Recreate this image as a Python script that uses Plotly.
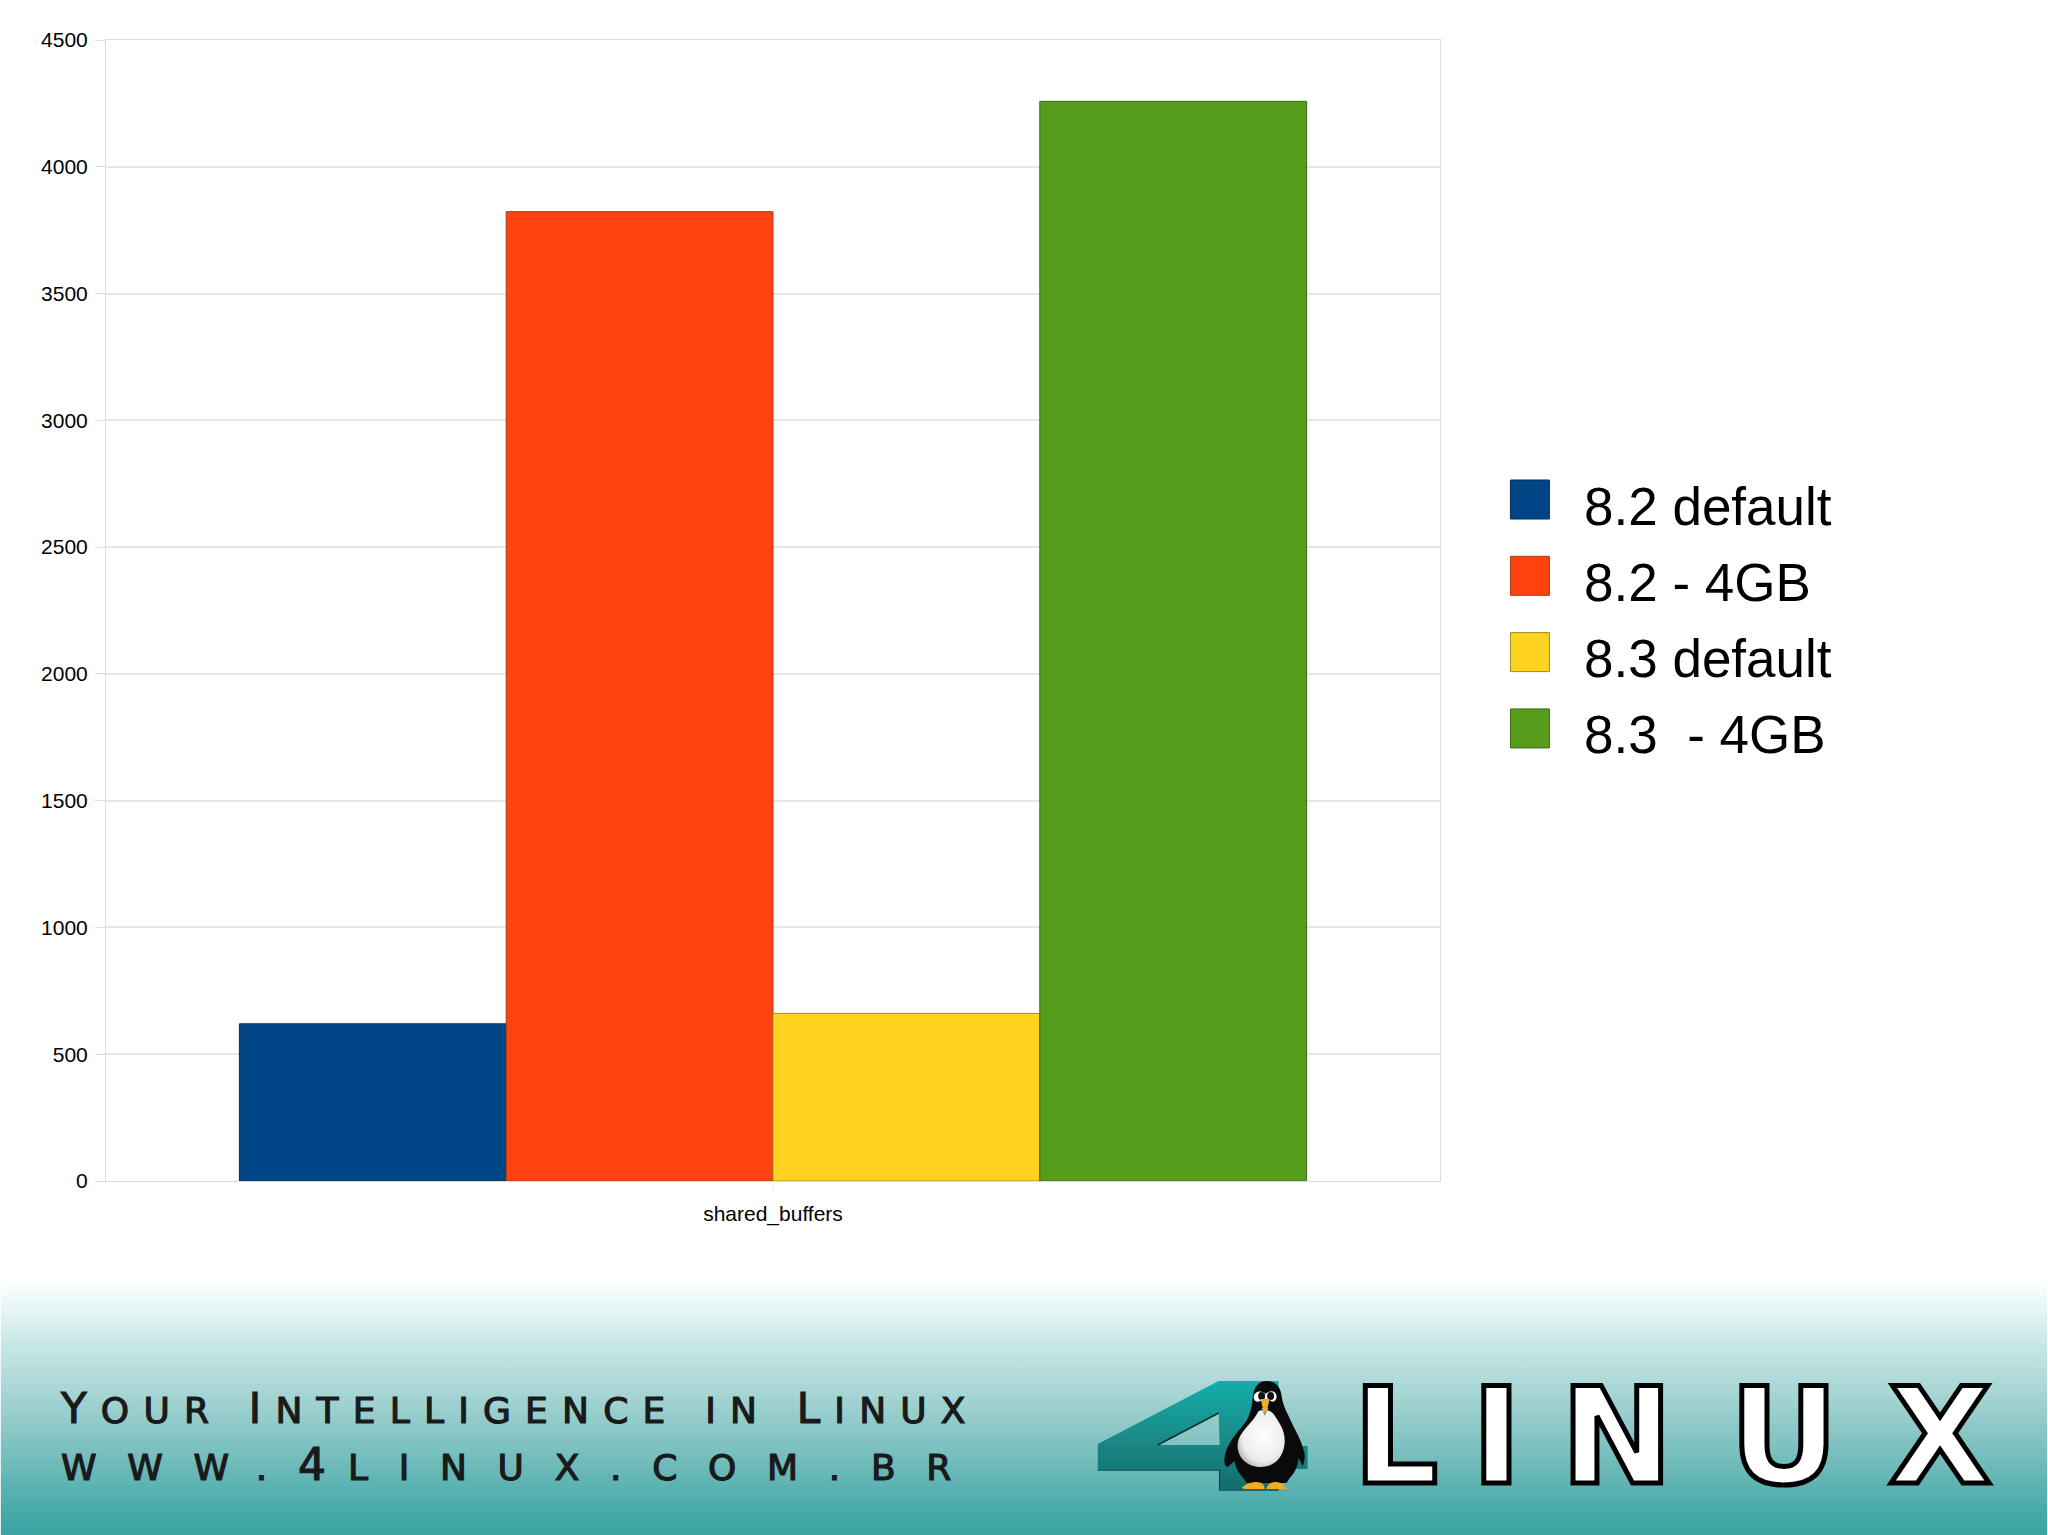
import base64
import plotly.graph_objects as go

categories = ["shared_buffers"]
series_names = ["8.2 default", "8.2 - 4GB", "8.3 default", "8.3  - 4GB"]
v82_default = [620]
v82_4gb = [3823]
v83_default = [661]
v83_4gb = [4258]
series_values = [v82_default, v82_4gb, v83_default, v83_4gb]
fill_colors = ["#004586", "#ff420e", "#ffd320", "#579d1c"]
line_colors = ["#00305c", "#a83a17", "#a08a28", "#3a6a14"]
y_ticks = [0, 500, 1000, 1500, 2000, 2500, 3000, 3500, 4000, 4500]

W, H = 2048, 1535
L, R, T, B = 105.5, 1440.5, 40, 1181


def px(x):
    return (x - L) / (R - L)


def py(y):
    return (B - y) / (B - T)


svg = f'''<svg xmlns="http://www.w3.org/2000/svg" width="{W}" height="{H}" viewBox="0 0 {W} {H}">
<defs>
<linearGradient id="bg" x1="0" y1="1280" x2="0" y2="1535" gradientUnits="userSpaceOnUse">
<stop offset="0" stop-color="#ffffff"/>
<stop offset="0.1" stop-color="#e9f6f6"/>
<stop offset="0.28" stop-color="#c2e4e4"/>
<stop offset="0.48" stop-color="#a0d2d1"/>
<stop offset="0.68" stop-color="#78bfbe"/>
<stop offset="0.87" stop-color="#4fadab"/>
<stop offset="1" stop-color="#37a4a2"/>
</linearGradient>
<linearGradient id="four" x1="0" y1="1380" x2="0" y2="1490" gradientUnits="userSpaceOnUse">
<stop offset="0" stop-color="#14aeab"/>
<stop offset="0.6" stop-color="#1a8583"/>
<stop offset="1" stop-color="#0f6f6c"/>
</linearGradient>
<radialGradient id="belly" cx="0.55" cy="0.45" r="0.65">
<stop offset="0" stop-color="#ffffff"/>
<stop offset="0.7" stop-color="#ececec"/>
<stop offset="1" stop-color="#a8a8a8"/>
</radialGradient>
</defs>
<rect width="{W}" height="{H}" fill="#ffffff"/>
<rect y="1280" width="{W}" height="255" fill="url(#bg)"/>
<path fill-rule="evenodd" fill="url(#four)" d="M1219 1381H1279V1446H1308V1469H1279V1489H1220V1469H1098V1444Z M1219 1413L1158 1445H1220Z"/>
<path fill="none" stroke="#0a2f2e" stroke-width="1.5" d="M1158 1445L1219 1413"/>
<path fill="none" stroke="#0a4f4d" stroke-width="1.5" d="M1098 1470H1220V1490H1279"/>
<path fill="#0a0a0a" d="M1267 1381C1276 1381 1281 1387 1282 1396C1283 1404 1286 1410 1289 1416C1293 1426 1301 1438 1304 1450C1306 1456 1305 1462 1303 1466L1299 1458C1298 1466 1296 1472 1290 1478L1287 1483H1247L1242 1476C1238 1471 1236 1468 1235 1461L1228 1467C1224 1466 1224 1460 1226 1452C1230 1440 1240 1430 1246 1422C1250 1416 1252 1408 1253 1398C1254 1388 1258 1381 1267 1381Z"/>
<path fill="url(#belly)" d="M1259 1411C1264 1409 1271 1410 1274 1414C1279 1422 1286 1430 1285 1443C1284 1458 1274 1467 1261 1467C1248 1467 1238 1458 1238 1446C1238 1432 1252 1425 1259 1411Z"/>
<path fill="#ffffff" d="M1254 1397C1255 1391 1262 1390 1266 1394C1270 1390 1276 1390 1277 1396C1277 1402 1272 1403 1270 1400H1262C1259 1403 1254 1402 1254 1397Z"/>
<ellipse cx="1262" cy="1396" rx="3.5" ry="4" fill="#111"/>
<ellipse cx="1271" cy="1396" rx="3.5" ry="4" fill="#111"/>
<path fill="#8d9a9a" d="M1262 1408H1269L1265 1416Z"/>
<path fill="#efab2a" d="M1261 1399H1270L1267 1412H1264Z"/>
<path fill="#f0ac25" d="M1242 1488C1245 1484 1252 1482 1257 1482C1262 1482 1265 1485 1265 1489H1245Z"/>
<path fill="#f0ac25" d="M1267 1489C1267 1485 1271 1482 1276 1482C1281 1482 1285 1485 1287 1489Z"/>
</svg>'''
bg_uri = "data:image/svg+xml;base64," + base64.b64encode(svg.encode()).decode()

fig = go.Figure()
for name, vals, fc, lc in zip(series_names, series_values, fill_colors, line_colors):
    fig.add_trace(go.Bar(name=name, x=categories, y=vals, marker=dict(color=fc, line=dict(color=lc, width=1)),
                         showlegend=False))

shapes = []
annotations = []
# hand-placed legend: swatches larger than a Plotly legend can draw
for i, (name, fc, lc) in enumerate(zip(series_names, fill_colors, line_colors)):
    top = 480 + i * 76.3
    shapes.append(dict(type="rect", xref="paper", yref="paper", x0=px(1511), x1=px(1550), y0=py(top), y1=py(top + 39),
                       fillcolor=fc, line=dict(color=lc, width=1)))
    annotations.append(dict(text=name.replace("  ", "\u00a0 "), xref="paper", yref="paper", x=px(1583), y=py(506 + i * 76.3),
                            xanchor="left", yanchor="middle", showarrow=False,
                            font=dict(family="Liberation Sans", size=53, color="#000000")))

BIG, SMALL, SP1 = 42, 36, 14.2
INK = "stroke:#1a1a1a;stroke-width:1.2px;"


def word(big, small):
    return (f'<span style="{INK}font-size:{BIG}px;letter-spacing:{SP1}px">{big}</span>'
            f'<span style="{INK}font-size:{SMALL}px;letter-spacing:{SP1}px">{small}</span>')


gap = f'<span style="font-size:{SMALL}px;letter-spacing:{SP1}px"> </span>'
tag1 = word("Y", "OUR") + gap + word("I", "NTELLIGENCE") + gap \
    + f'<span style="{INK}font-size:{SMALL}px;letter-spacing:{SP1}px">IN </span>' + word("L", "INUX")
annotations.append(dict(text=tag1, xref="paper", yref="paper", x=px(57), y=py(1408), xanchor="left", yanchor="middle",
                        showarrow=False, font=dict(family="DejaVu Sans", size=SMALL, color="#1a1a1a")))
tag2 = (f'<span style="{INK}font-size:36px;letter-spacing:30.7px">WWW.</span>'
        f'<span style="{INK}font-size:44px;letter-spacing:22px">4</span>'
        f'<span style="{INK}font-size:36px;letter-spacing:30.7px">LINUX.COM.BR</span>')
annotations.append(dict(text=tag2, xref="paper", yref="paper", x=px(58), y=py(1464), xanchor="left", yanchor="middle",
                        showarrow=False, font=dict(family="DejaVu Sans", size=36, color="#1a1a1a")))

logo_style = "stroke:#000000;stroke-width:5px;"
logo = "".join(f'<span style="{logo_style}letter-spacing:{sp}px">{ch}</span>'
               for ch, sp in zip("LINUX", [33, 39.5, 56.7, 50, 0]))
annotations.append(dict(text=logo, xref="paper", yref="paper", x=px(1351.7), y=py(1437), xanchor="left", yanchor="middle",
                        showarrow=False, font=dict(family="DejaVu Sans", size=134, color="#ffffff", weight=700)))

fig.update_layout(
    width=W, height=H, autosize=False,
    margin=dict(l=L, r=W - R, t=T, b=H - B, pad=0),
    paper_bgcolor="#ffffff", plot_bgcolor="rgba(0,0,0,0)",
    barmode="group", bargap=0.2, bargroupgap=0,
    font=dict(family="Liberation Sans", color="#000000", size=21),
    xaxis=dict(type="category", showline=True, linecolor="#dcdcdc", linewidth=1, mirror=True,
               ticks="outside", ticklen=11, tickcolor="#eeeeee", tickfont=dict(size=21), ticklabelstandoff=3,
               showgrid=False, automargin=False),
    yaxis=dict(range=[0, 4500], tickvals=y_ticks, showline=True, linecolor="#dcdcdc", linewidth=1, mirror=True,
               ticks="outside", ticklen=10, tickcolor="#dddddd", tickfont=dict(size=21), ticklabelstandoff=3,
               showgrid=True, gridcolor="#e6e6e6", gridwidth=1.5, zeroline=False, automargin=False),
    images=[dict(source=bg_uri, xref="paper", yref="paper", x=px(0), y=py(0), sizex=W / (R - L), sizey=H / (B - T),
                 xanchor="left", yanchor="top", sizing="stretch", layer="below")],
    shapes=shapes,
    annotations=annotations,
)

fig.write_html("out.html", config=dict(displayModeBar=False),
               post_script="document.body.style.margin='0';document.documentElement.style.overflow='hidden';")
